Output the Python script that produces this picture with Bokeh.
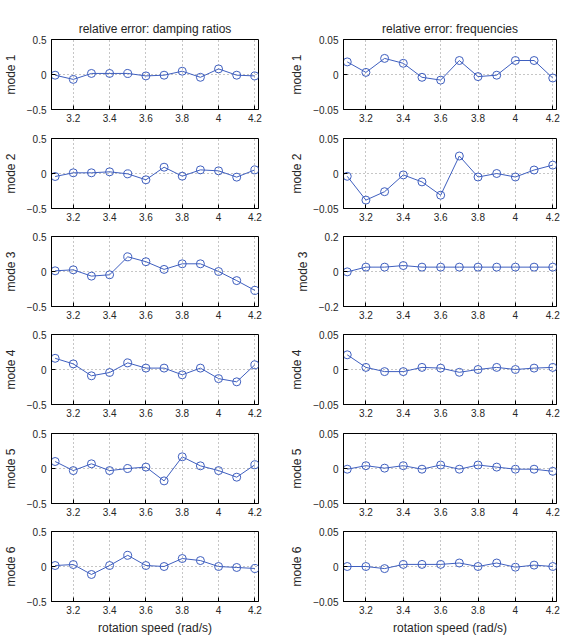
from bokeh.plotting import figure
from bokeh.layouts import column, row
from bokeh.models import Range1d, FixedTicker
from bokeh.embed import file_html
from bokeh.resources import INLINE

# rotation speeds (rad/s)
speed = [3.1, 3.2, 3.3, 3.4, 3.5, 3.6, 3.7, 3.8, 3.9, 4.0, 4.1, 4.2]

# relative error of the identified damping ratios, per mode
damp_mode1 = [-0.01, -0.07, 0.015, 0.015, 0.015, -0.02, -0.01, 0.047, -0.04, 0.08, -0.01, -0.02]
damp_mode2 = [-0.043, 0.01, 0.01, 0.024, -0.005, -0.09, 0.09, -0.038, 0.052, 0.038, -0.052, 0.052]
damp_mode3 = [0.01, 0.024, -0.066, -0.047, 0.21, 0.14, 0.03, 0.11, 0.11, 0.0, -0.13, -0.27]
damp_mode4 = [0.16, 0.08, -0.09, -0.043, 0.095, 0.02, 0.02, -0.076, 0.02, -0.13, -0.176, 0.067]
damp_mode5 = [0.10, -0.03, 0.067, -0.03, 0.0, 0.02, -0.177, 0.167, 0.038, -0.03, -0.124, 0.053]
damp_mode6 = [0.014, 0.028, -0.114, 0.014, 0.16, 0.014, 0.0, 0.114, 0.085, 0.0, -0.014, -0.028]

# relative error of the identified natural frequencies, per mode
freq_mode1 = [0.018, 0.003, 0.023, 0.016, -0.004, -0.008, 0.020, -0.003, -0.001, 0.020, 0.020, -0.005]
freq_mode2 = [-0.004, -0.038, -0.026, -0.002, -0.012, -0.031, 0.025, -0.005, 0.0, -0.005, 0.005, 0.012]
freq_mode3 = [-0.002, 0.025, 0.025, 0.034, 0.025, 0.025, 0.025, 0.025, 0.025, 0.025, 0.025, 0.025]
freq_mode4 = [0.021, 0.003, -0.003, -0.003, 0.003, 0.002, -0.004, 0.0, 0.003, 0.0, 0.002, 0.003]
freq_mode5 = [-0.001, 0.004, 0.0005, 0.004, -0.001, 0.005, -0.001, 0.005, 0.002, -0.001, -0.001, -0.004]
freq_mode6 = [0.0, 0.0, -0.003, 0.003, 0.003, 0.003, 0.005, 0.0, 0.005, -0.001, 0.002, 0.0]

damping = [damp_mode1, damp_mode2, damp_mode3, damp_mode4, damp_mode5, damp_mode6]
frequency = [freq_mode1, freq_mode2, freq_mode3, freq_mode4, freq_mode5, freq_mode6]

# symmetric y limits of each panel
damp_limits = [0.5, 0.5, 0.5, 0.5, 0.5, 0.5]
freq_limits = [0.05, 0.05, 0.2, 0.05, 0.05, 0.05]

x_ticks = [3.2, 3.4, 3.6, 3.8, 4.0, 4.2]
x_tick_labels = ["3.2", "3.4", "3.6", "3.8", "4", "4.2"]

titles = ["relative error: damping ratios", "relative error: frequencies"]
x_label = "rotation speed (rad/s)"

FONT = "Liberation Sans"
TEXT = "#262626"
LINE = "#3f5fbf"

# vertical borders (top, bottom) of each row so frames line up
row_borders = [(39, 19), (10, 18), (10, 18), (10, 18), (11, 18), (10, 39)]
FRAME_H = 70


def fmt(v):
    s = ("%g" % abs(v))
    return ("\u2212" + s) if v < 0 else s


def panel(values, lim, i, col):
    top, bottom = row_borders[i]
    left, right = (46, 23) if col == 0 else (62, 6)
    p = figure(width=281, height=top + FRAME_H + bottom,
               output_backend="svg", toolbar_location=None,
               x_range=Range1d(3.08, 4.22), y_range=Range1d(-lim, lim),
               min_border_left=left, min_border_right=right,
               min_border_top=top, min_border_bottom=bottom)
    p.outline_line_color = "black"
    p.outline_line_width = 1
    p.outline_line_alpha = 1
    p.background_fill_color = "white"
    p.border_fill_color = "white"

    if i == 0:
        p.title.text = titles[col]
        p.title.align = "center"
        p.title.text_font = FONT
        p.title.text_font_size = "12px"
        p.title.text_font_style = "normal"
        p.title.text_color = TEXT
        p.title.standoff = 8

    for ax in (p.xaxis[0], p.yaxis[0]):
        ax.major_tick_in = 4
        ax.major_tick_out = 0
        ax.minor_tick_line_color = None
        ax.axis_line_color = "black"
        ax.major_tick_line_color = "black"
        ax.major_label_text_font = FONT
        ax.major_label_text_font_size = "10px"
        ax.major_label_text_color = TEXT
        ax.axis_label_text_font = FONT
        ax.axis_label_text_font_size = "12px"
        ax.axis_label_text_font_style = "normal"
        ax.axis_label_text_color = TEXT

    p.xaxis.ticker = FixedTicker(ticks=x_ticks)
    p.xaxis.major_label_overrides = dict(zip(x_ticks, x_tick_labels))
    p.xaxis.major_label_standoff = 4
    if i == 5:
        p.xaxis.axis_label = x_label
        p.xaxis.axis_label_standoff = 4

    y_ticks = [-lim, 0, lim]
    p.yaxis.ticker = FixedTicker(ticks=y_ticks)
    p.yaxis.major_label_overrides = {t: fmt(t) for t in y_ticks}
    p.yaxis.major_label_standoff = 5
    p.yaxis.axis_label = "mode %d" % (i + 1)
    p.yaxis.axis_label_standoff = 6

    for g in (p.xgrid[0], p.ygrid[0]):
        g.grid_line_color = "#8c8c8c"
        g.grid_line_dash = "1 3"
        g.grid_line_width = 1

    p.line(speed, values, line_color=LINE, line_width=1)
    p.scatter(speed, values, marker="circle", size=8, fill_color=None,
              line_color=LINE, line_width=1)
    return p


rows = []
for i in range(6):
    rows.append(row(panel(damping[i], damp_limits[i], i, 0),
                    panel(frequency[i], freq_limits[i], i, 1)))

layout = column(*rows)
open("out.html", "w").write(file_html(layout, INLINE))
